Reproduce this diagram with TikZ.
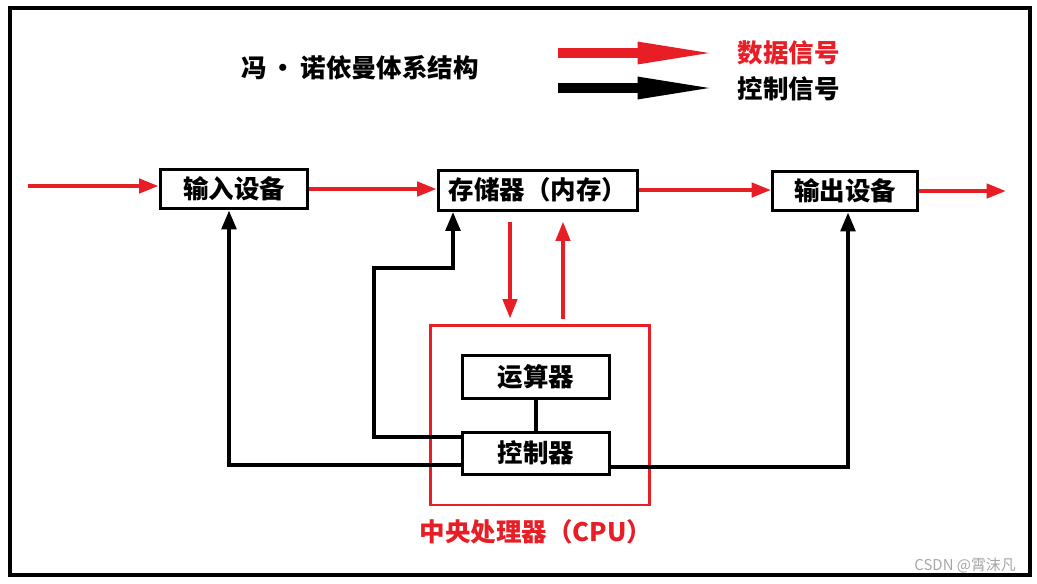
\documentclass[tikz,border=0pt]{standalone}
\usepackage{fontspec}
\setmainfont{Liberation Serif}
\newfontfamily\cjk{Noto Sans CJK SC}
\usetikzlibrary{arrows.meta}

\definecolor{sigred}{RGB}{232,30,38}

\tikzset{
    unitbox/.style={draw, line width=1.7pt, fill=white, font=\cjk\bfseries\fontsize{14.5}{17}\selectfont,
        inner sep=0pt, minimum height=0.78cm},
    dataline/.style={draw=sigred, line width=2.3pt, -{Triangle[length=11pt,width=8pt]}},
    ctrlline/.style={draw=black, line width=2.8pt, -{Triangle[length=11pt,width=8pt]}},
    plaintext/.style={font=\cjk\bfseries\fontsize{14.5}{17}\selectfont, inner sep=2pt},
}

\begin{document}
\begin{tikzpicture}[x=0.02cm, y=-0.02cm]
    \useasboundingbox (0,0) rectangle (1037,583);

    % Outer frame
    \draw[line width=1.8pt] (10,8) rectangle (1030,575);

    % Title and legend
    \node[plaintext] (title) at (360,68) {冯\,•\,诺依曼体系结构};
    \coordinate (dleg) at (558,53);
    \coordinate (dlegend) at (722,53);
    \coordinate (cleg) at (558,88);
    \coordinate (clegend) at (722,88);
    \draw[sigred, line width=6pt, -{Triangle[length=48pt,width=11pt]}] (dleg) -- (dlegend);
    \draw[black, line width=6pt, -{Triangle[length=48pt,width=11pt]}] (cleg) -- (clegend);
    \node[plaintext, anchor=west, text=sigred] (dlab) at (734,53) {数据信号};
    \node[plaintext, anchor=west] (clab) at (734,89) {控制信号};

    % Units
    \node[unitbox, minimum width=2.96cm] (inp) at (234,189) {输入设备};
    \node[unitbox, minimum width=4.0cm, minimum height=0.8cm] (mem) at (538,190) {存储器（内存）};
    \node[unitbox, minimum width=2.9cm] (outp) at (845,191) {输出设备};

    % CPU
    \node[draw=sigred, line width=1.7pt, minimum width=4.4cm, minimum height=3.6cm] (cpu) at (540,415) {};
    \node[unitbox, minimum width=2.94cm, minimum height=0.86cm] (alu) at (536,377) {运算器};
    \node[unitbox, minimum width=2.94cm, minimum height=0.84cm] (ctl) at (536,453) {控制器};
    \node[plaintext, text=sigred] (cpulab) at (536,532) {中央处理器（CPU）};

    % Data signals
    \coordinate (src) at (28,186);
    \coordinate (dst) at (1006,191);
    \draw[dataline] (src) -- (src -| inp.west);
    \draw[dataline] (inp.east) -- (inp.east -| mem.west);
    \draw[dataline] (mem.east) -- (mem.east -| outp.west);
    \draw[dataline] (outp.east) -- (dst);
    \draw[dataline] ([shift={(-28,10)}]mem.south) -- ([shift={(-30,-5)}]cpu.north);
    \draw[dataline] ([shift={(23,-5)}]cpu.north) -- ([shift={(25,10)}]mem.south);

    % Control signals
    \draw[line width=2.8pt] (alu.south) -- (ctl.north);
    \draw[ctrlline] ([shift={(0,12)}]ctl.west) -| ([shift={(-5,0)}]inp.south);
    \draw[ctrlline] ([shift={(0,-16)}]ctl.west) -- ++(-87,0) -- ++(0,-169) -| ([shift={(-85,0)}]mem.south);
    \draw[ctrlline] ([shift={(0,14)}]ctl.east) -| ([shift={(3,0)}]outp.south);

    % Watermark
    \node[text=gray!70, font=\cjk\fontsize{8.5}{10}\selectfont, anchor=east] (mark) at (1022,566) {CSDN @霄沫凡};
\end{tikzpicture}
\end{document}
